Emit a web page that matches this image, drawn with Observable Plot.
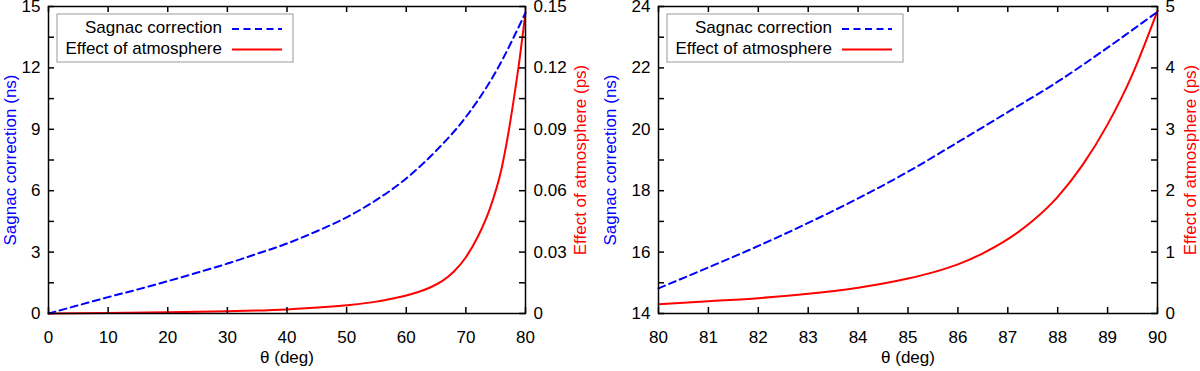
<!DOCTYPE html>
<html><head><meta charset="utf-8">
<script src="https://cdn.jsdelivr.net/npm/d3@7"></script>
<script src="https://cdn.jsdelivr.net/npm/@observablehq/plot@0.6"></script>
<style>
body{margin:0;background:#fff;}
#wrap{display:flex;width:1200px;height:371px;}
.panel{width:600px;height:371px;}
</style></head><body><div id="wrap"></div>
<script>
// ---- Left panel data (θ from 0 to 80 deg) ----
const thetaSagnacA = [0,5,10,15,20,25,30,35,40,45,50,55,60,65,70,75,80];
const sagnacA      = [0,0.4,0.8,1.18,1.58,2.0,2.44,2.92,3.42,4.02,4.7,5.55,6.6,7.95,9.6,11.8,14.7];
const thetaAtmA = [0,10,20,30,40,50,55,58,60,62,64,66,68,70,72,74,76,77,78,79,80];
const atmA      = [0,0.0003,0.0006,0.0011,0.002,0.004,0.0058,0.0075,0.0088,0.0105,0.0127,0.0158,0.0205,0.0275,0.0375,0.051,0.071,0.086,0.104,0.124,0.147];
const xTicksA = [0,10,20,30,40,50,60,70,80];
const yTicksA = [0,3,6,9,12,15];
const y2TicksA = [0,0.03,0.06,0.09,0.12,0.15];

// ---- Right panel data (θ from 80 to 90 deg) ----
const thetaSagnacB = [80,81,82,83,84,85,86,87,88,89,90];
const sagnacB      = [14.82,15.5,16.2,16.95,17.75,18.62,19.58,20.56,21.55,22.66,23.83];
const thetaAtmB = [80,81,82,83,84,85,85.5,86,86.5,87,87.5,88,88.5,89,89.5,90];
const atmB      = [0.15,0.2,0.25,0.32,0.42,0.57,0.67,0.8,0.98,1.21,1.51,1.9,2.42,3.08,3.9,4.93];
const xTicksB = [80,81,82,83,84,85,86,87,88,89,90];
const yTicksB = [14,16,18,20,22,24];
const y2TicksB = [0,1,2,3,4,5];

const seriesNames = ["Sagnac correction", "Effect of atmosphere"];
const yLabel = "Sagnac correction (ns)";
const y2Label = "Effect of atmosphere (ps)";
const xLabel = "θ (deg)";

const BLUE = "#0000ff", RED = "#ff0000";
const FONT = "'Liberation Sans', Arial, sans-serif";
const FS = 17;

function mids(arr){ const out=[]; for(let i=0;i<arr.length-1;i++) out.push((arr[i]+arr[i+1])/2); return out; }
function yTicksAll(major){ return major.concat(mids(major)).sort((a,b)=>a-b); }

function panel(cfg){
  const W = 600, H = 371;
  const innerW = W - cfg.ml - cfg.mr, innerH = H - cfg.mt - cfg.mb;
  const toP = s => cfg.off + s*cfg.k;           // secondary -> primary units
  const yAll = yTicksAll(cfg.yTicks);
  const y2All = yTicksAll(cfg.y2Ticks).map(toP);
  const blue = cfg.tS.map((t,i)=>({t, v: cfg.s[i]}));
  const red = cfg.tA.map((t,i)=>({t, v: cfg.a[i]}));
  const svg = Plot.plot({
    width: W, height: H,
    marginLeft: cfg.ml, marginRight: cfg.mr, marginTop: cfg.mt, marginBottom: cfg.mb,
    style: {fontFamily: FONT, fontSize: FS + "px", color: "black", background: "white", overflow: "visible"},
    x: {domain: cfg.xDomain},
    y: {domain: cfg.yDomain},
    marks: [
      Plot.line(red, {x: "t", y: d => toP(d.v), stroke: RED, strokeWidth: 2, curve: "monotone-x"}),
      Plot.line(blue, {x: "t", y: "v", stroke: BLUE, strokeWidth: 2, strokeDasharray: "7,4.5", curve: "monotone-x"}),
      Plot.frame({stroke: "black", strokeWidth: 1.5}),
      Plot.tickX(cfg.xTicks, {x: d => d, insetTop: innerH - 6, stroke: "black", strokeWidth: 1.5}),
      Plot.tickX(cfg.xTicks, {x: d => d, insetBottom: innerH - 6, stroke: "black", strokeWidth: 1.5}),
      Plot.tickY(yAll, {y: d => d, insetRight: innerW - 6, stroke: "black", strokeWidth: 1.5}),
      Plot.tickY(y2All, {y: d => d, insetLeft: innerW - 6, stroke: "black", strokeWidth: 1.5}),
      Plot.axisX({ticks: cfg.xTicks, tickSize: 0, tickPadding: 17, label: null, fontSize: FS, tickFormat: d => String(d)}),
      Plot.axisY({anchor: "left", ticks: cfg.yTicks, tickSize: 0, tickPadding: 8, label: null, fontSize: FS, tickFormat: d => String(d)}),
      Plot.axisY({anchor: "right", ticks: cfg.y2Ticks.map(toP), tickSize: 0, tickPadding: 8, label: null, fontSize: FS,
                  tickFormat: d => { const s = (d - cfg.off)/cfg.k; return Math.abs(s) < 1e-9 ? "0" : String(+s.toFixed(2)); }}),
      Plot.text([xLabel], {text: d => d, frameAnchor: "bottom", lineAnchor: "middle", dy: 44, fill: "black", fontSize: FS}),
      Plot.text([yLabel], {text: d => d, frameAnchor: "left", textAnchor: "middle", lineAnchor: "middle", rotate: -90, dx: -(cfg.ml - 10), fill: BLUE, fontSize: FS}),
      Plot.text([y2Label], {text: d => d, frameAnchor: "right", textAnchor: "middle", lineAnchor: "middle", rotate: -90, dx: cfg.y2dx, fill: RED, fontSize: FS})
    ]
  });
  // legend box (inside the plot, top-left)
  const g = d3.select(svg).append("g").attr("font-family", FONT).attr("font-size", 17);
  const lx = cfg.ml + 9, ly = 14;
  g.append("rect").attr("x", lx).attr("y", ly).attr("width", 236).attr("height", 48)
    .attr("fill", "white").attr("stroke", "#9a9a9a").attr("stroke-width", 1);
  const rows = [{name: seriesNames[0], c: BLUE, dash: "7,4.5", y: 29}, {name: seriesNames[1], c: RED, dash: null, y: 49.5}];
  rows.forEach(r => {
    g.append("text").attr("x", lx + 165).attr("y", r.y).attr("text-anchor", "end")
      .attr("dominant-baseline", "middle").attr("fill", "black").text(r.name);
    const ln = g.append("line").attr("x1", lx + 175).attr("x2", lx + 225).attr("y1", r.y).attr("y2", r.y)
      .attr("stroke", r.c).attr("stroke-width", 2);
    if (r.dash) ln.attr("stroke-dasharray", r.dash);
  });
  return svg;
}

const wrap = document.getElementById("wrap");
const pA = document.createElement("div"); pA.className = "panel";
const pB = document.createElement("div"); pB.className = "panel";
wrap.appendChild(pA); wrap.appendChild(pB);

pA.appendChild(panel({
  ml: 48, mr: 75, mt: 6, mb: 58,
  xDomain: [0, 80], yDomain: [0, 15], k: 100, off: 0,
  xTicks: xTicksA, yTicks: yTicksA, y2Ticks: y2TicksA,
  tS: thetaSagnacA, s: sagnacA, tA: thetaAtmA, a: atmA, y2dx: 55
}));
pB.appendChild(panel({
  ml: 58, mr: 43, mt: 6, mb: 58,
  xDomain: [80, 90], yDomain: [14, 24], k: 2, off: 14,
  xTicks: xTicksB, yTicks: yTicksB, y2Ticks: y2TicksB,
  tS: thetaSagnacB, s: sagnacB, tA: thetaAtmB, a: atmB, y2dx: 33
}));
</script>
</body></html>
